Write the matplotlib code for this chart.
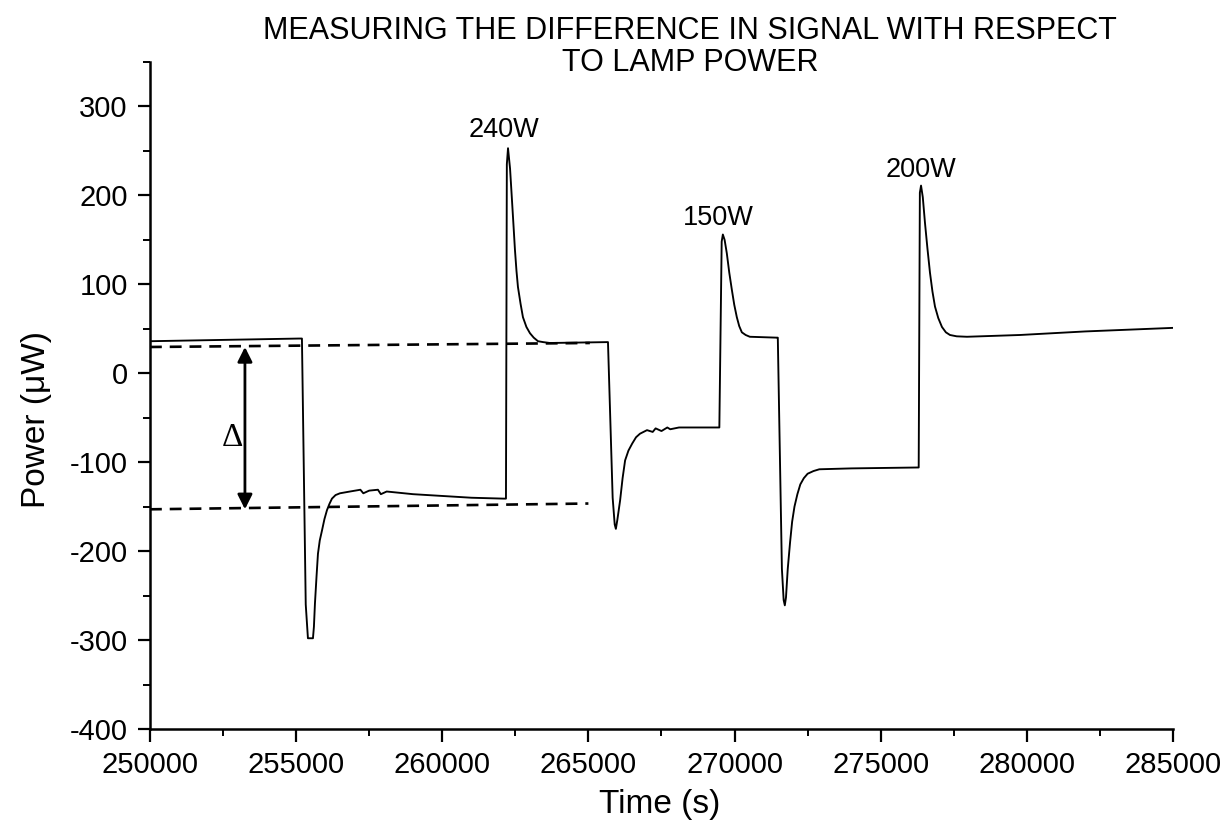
import numpy as np
import matplotlib
matplotlib.use("Agg")
import matplotlib.pyplot as plt
from matplotlib.ticker import MultipleLocator

# --------------------------
# Data
# --------------------------
time_s = [
    # baseline and first drop (240W step)
    250000, 255100, 255200, 255330, 255405, 255577, 255610, 255645, 255700,
    255748, 255810, 255885, 255970, 256056, 256140, 256227, 256350, 256500,
    256843, 257200, 257300, 257500, 257800, 257900, 258100, 258400, 259000,
    260000, 261000, 262100, 262180, 262210, 262250, 262320, 262385, 262440,
    262487, 262540, 262590, 262680, 262761, 262880, 263001, 263130, 263275,
    263450, 263685, 265670,
    # second drop (150W step)
    265830, 265900, 265940, 265990, 266085, 266170, 266256, 266370, 266500,
    266630, 266765, 267005, 267200, 267300, 267500, 267700, 267800, 268100,
    268500, 269480, 269560, 269600, 269660, 269735, 269820, 269907, 269990,
    270078, 270160, 270250, 270380, 270523, 271447,
    # third drop (200W step)
    271480, 271620, 271680, 271720, 271760, 271820, 271900, 271970, 272050,
    272150, 272250, 272370, 272500, 272700, 272900, 274000, 276250, 276300,
    276340, 276380, 276440, 276515, 276600, 276686, 276770, 276857, 276970,
    277096, 277230, 277370, 277600, 277951, 279765, 282000, 285000,
]
power_uw = [
    36, 39, 39, -260, -298, -298, -285, -259, -228,
    -203, -188, -177, -164, -154, -147, -141, -137, -135,
    -133, -131, -135, -132, -131, -136, -133, -134, -136,
    -138, -140, -141, -141, 235, 253, 230, 195, 165,
    139, 115, 97, 78, 63, 52, 45, 40, 36,
    35, 34, 35,
    -140, -170, -175, -165, -143, -118, -98, -87, -79,
    -72, -68, -64, -66, -62, -65, -61, -63, -61,
    -61, -61, 148, 156, 150, 135, 113, 94, 77,
    63, 53, 46, 43, 41, 40,
    40, -220, -255, -261, -252, -220, -190, -167, -150,
    -136, -125, -118, -113, -110, -108, -107, -106, -106,
    203, 211, 198, 169, 140, 113, 92, 75, 62,
    52, 46, 43, 41.5, 41, 43, 47, 51,
]

peak_labels = ["240W", "150W", "200W"]
peak_label_x = [262127, 269430, 276380]
peak_label_y = [274, 175, 229]

# reference levels used for the delta
upper_level_x = [250000, 265050]
upper_level_y = [29.5, 34]
lower_level_x = [250000, 265000]
lower_level_y = [-153, -146.5]

# --------------------------
# Figure
# --------------------------
plt.rcParams["font.family"] = ["Liberation Sans", "DejaVu Sans"]
plt.rcParams["axes.unicode_minus"] = False

fig = plt.figure(figsize=(12.22, 8.25), dpi=100)
ax = fig.add_axes([0.1227, 0.1164, 0.8372, 0.8085])

ax.plot(time_s, power_uw, color="black", lw=1.35)
ax.plot(upper_level_x, upper_level_y, color="black", lw=1.9, ls=(0, (4.5, 3)))
ax.plot(lower_level_x, lower_level_y, color="black", lw=1.9, ls=(0, (4.5, 3)))

ax.annotate("", xy=(253250, upper_level_y[0]), xytext=(253250, lower_level_y[0]),
            arrowprops=dict(arrowstyle="<|-|>", color="black", lw=2,
                            mutation_scale=22, shrinkA=0, shrinkB=0))
ax.text(252806, -72, "\u0394", fontsize=24, family=["Liberation Serif", "DejaVu Serif"],
        ha="center", va="center")

for lab, lx, ly in zip(peak_labels, peak_label_x, peak_label_y):
    ax.text(lx, ly, lab, fontsize=19.5, ha="center", va="center")

ax.set_xlim(250000, 285000)
ax.set_ylim(-400, 350)
ax.xaxis.set_major_locator(MultipleLocator(5000))
ax.xaxis.set_minor_locator(MultipleLocator(2500))
ax.yaxis.set_major_locator(MultipleLocator(100))
ax.yaxis.set_minor_locator(MultipleLocator(50))
ax.set_yticks(np.arange(-400, 301, 100))

for side in ["top", "right"]:
    ax.spines[side].set_visible(False)
for side in ["left", "bottom"]:
    ax.spines[side].set_linewidth(1.8)

ax.tick_params(which="major", direction="out", length=9, width=1.6,
               labelsize=21, pad=7)
ax.tick_params(which="minor", direction="out", length=5, width=1.4)

fig.text(0.565, 0.943, "MEASURING THE DIFFERENCE IN SIGNAL WITH RESPECT\nTO LAMP POWER",
         ha="center", va="center", fontsize=22, linespacing=1.1)
fig.text(0.54, 1 - 805 / 825, "Time (s)", ha="center", va="center", fontsize=24)
fig.text(37 / 1222, 1 - 420 / 825, "Power (\u03bcW)", ha="center", va="center",
         fontsize=24, rotation=90)

fig.savefig("out.png", dpi=100)
